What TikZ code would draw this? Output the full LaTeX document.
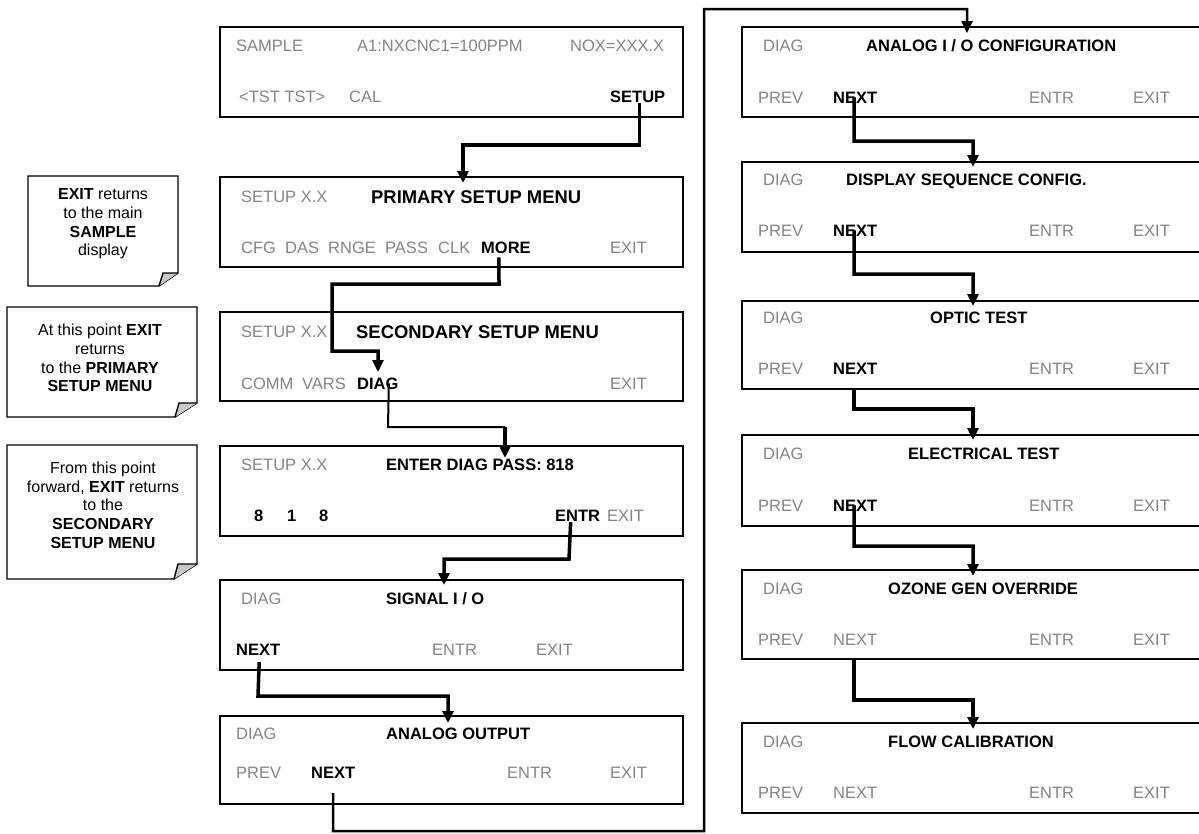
\documentclass[tikz,border=0pt]{standalone}
\usepackage{fontspec}
\setmainfont{Liberation Sans}
\usetikzlibrary{arrows.meta,calc}
\definecolor{txtgray}{RGB}{132,132,132}
\definecolor{foldgray}{RGB}{200,200,200}
\tikzset{
  screen/.style={draw=black, line width=1.4pt, minimum width=463pt, anchor=north west, inner sep=0pt, outer sep=0pt},
  rscreen/.style={screen, minimum width=480pt},
  g/.style={font=\fontsize{16.5}{18}\selectfont, text=txtgray, inner sep=0pt, anchor=base west},
  k/.style={font=\fontsize{16.5}{18}\selectfont\bfseries, text=black, inner sep=0pt, anchor=base west},
  kt/.style={font=\fontsize{18.4}{20}\selectfont\bfseries, text=black, inner sep=0pt, anchor=base west},
  flow/.style={line width=3.5pt, -{Triangle[length=12pt,width=11pt]}},
  thinflow/.style={line width=2pt},
  loopflow/.style={line width=2.5pt, -{Triangle[length=12pt,width=11pt]}},
  notebox/.style={draw=black, line width=1.4pt, fill=white},
  fold/.style={draw=black, line width=1.4pt, fill=foldgray},
  notetext/.style={font=\fontsize{16}{18.7}\selectfont, align=center, inner sep=0pt}
}
\begin{document}
\begin{tikzpicture}[x=1pt,y=-1pt]
\useasboundingbox (0,0) rectangle (1199,833);

% ---------- notes ----------
\draw[notebox] (28,176) -- (178,176) -- (178,273) -- (159,286) -- (28,286) -- cycle;
\draw[fold] (159,286) -- (163,273) -- (178,273);
\node[notetext] (n1) at (103,224) {\textbf{EXIT} returns\\to the main\\\textbf{SAMPLE}\\display};

\draw[notebox] (7,307) -- (197,307) -- (197,403) -- (175,417) -- (7,417) -- cycle;
\draw[fold] (175,417) -- (179,403) -- (197,403);
\node[notetext] (n2) at (100,358) {At this point \textbf{EXIT}\\returns\\to the \textbf{PRIMARY}\\\textbf{SETUP MENU}};

\draw[notebox] (7,445) -- (197,445) -- (197,564) -- (174,579) -- (7,579) -- cycle;
\draw[fold] (174,579) -- (178,564) -- (197,564);
\node[notetext] (n3) at (103,505) {From this point\\forward, \textbf{EXIT} returns\\to the\\\textbf{SECONDARY}\\\textbf{SETUP MENU}};

% ---------- left column screens ----------
\node[screen, minimum height=90pt] (b1) at (220,27) {};
\node[g] (b1a) at (236,51) {SAMPLE};
\node[g] (b1b) at (357,51) {A1:NXCNC1=100PPM};
\node[g] (b1c) at (570,51) {NOX=XXX.X};
\node[g] (b1d) at (239,102) {<TST TST>};
\node[g] (b1e) at (349,102) {CAL};
\node[k] (setup) at (610,102) {SETUP};

\node[screen, minimum height=90pt] (b2) at (220,177) {};
\node[g] (b2a) at (241,202) {SETUP X.X};
\node[kt] (b2t) at (371,203) {PRIMARY SETUP MENU};
\node[g] (b2b) at (241,253) {CFG};
\node[g] (b2c) at (285,253) {DAS};
\node[g] (b2d) at (328,253) {RNGE};
\node[g] (b2e) at (385,253) {PASS};
\node[g] (b2f) at (438,253) {CLK};
\node[k] (more) at (481,253) {MORE};
\node[g] (b2g) at (610,253) {EXIT};

\node[screen, minimum height=89pt] (b3) at (220,312) {};
\node[g] (b3a) at (241,337) {SETUP X.X};
\node[kt] (b3t) at (356,338) {SECONDARY SETUP MENU};
\node[g] (b3b) at (241,389) {COMM};
\node[g] (b3c) at (302,389) {VARS};
\node[k] (diag) at (357,389) {DIAG};
\node[g] (b3d) at (610,389) {EXIT};

\node[screen, minimum height=90pt] (b4) at (220,446) {};
\node[g] (b4a) at (241,470) {SETUP X.X};
\node[k] (b4t) at (386,470) {ENTER DIAG PASS: 818};
\node[k] (b4b) at (254,521) {8};
\node[k] (b4c) at (287,521) {1};
\node[k] (b4d) at (319,521) {8};
\node[k] (entr) at (555,521) {ENTR};
\node[g] (b4e) at (607,521) {EXIT};

\node[screen, minimum height=90pt] (b5) at (220,580) {};
\node[g] (b5a) at (241,604) {DIAG};
\node[k] (b5t) at (386,604) {SIGNAL I / O};
\node[k] (next5) at (236,655) {NEXT};
\node[g] (b5b) at (432,655) {ENTR};
\node[g] (b5c) at (536,655) {EXIT};

\node[screen, minimum height=88pt] (b6) at (220,716) {};
\node[g] (b6a) at (236,739) {DIAG};
\node[k] (b6t) at (386,739) {ANALOG OUTPUT};
\node[g] (b6b) at (236,778) {PREV};
\node[k] (next6) at (311,778) {NEXT};
\node[g] (b6c) at (507,778) {ENTR};
\node[g] (b6d) at (610,778) {EXIT};

% ---------- right column screens ----------
\node[rscreen, minimum height=90pt] (r1) at (742,27) {};
\node[g] (r1a) at (763,51) {DIAG};
\node[k] (r1t) at (866,51) {ANALOG I / O CONFIGURATION};
\node[g] (r1b) at (758,103) {PREV};
\node[k] (nr1) at (833,103) {NEXT};
\node[g] (r1c) at (1029,103) {ENTR};
\node[g] (r1d) at (1133,103) {EXIT};

\node[rscreen, minimum height=90pt] (r2) at (742,162) {};
\node[g] (r2a) at (763,185) {DIAG};
\node[k] (r2t) at (846,185) {DISPLAY SEQUENCE CONFIG.};
\node[g] (r2b) at (758,236) {PREV};
\node[k] (nr2) at (833,236) {NEXT};
\node[g] (r2c) at (1029,236) {ENTR};
\node[g] (r2d) at (1133,236) {EXIT};

\node[rscreen, minimum height=88pt] (r3) at (742,301) {};
\node[g] (r3a) at (763,323) {DIAG};
\node[k] (r3t) at (930,323) {OPTIC TEST};
\node[g] (r3b) at (758,374) {PREV};
\node[k] (nr3) at (833,374) {NEXT};
\node[g] (r3c) at (1029,374) {ENTR};
\node[g] (r3d) at (1133,374) {EXIT};

\node[rscreen, minimum height=91pt] (r4) at (742,435) {};
\node[g] (r4a) at (763,459) {DIAG};
\node[k] (r4t) at (908,459) {ELECTRICAL TEST};
\node[g] (r4b) at (758,511) {PREV};
\node[k] (nr4) at (833,511) {NEXT};
\node[g] (r4c) at (1029,511) {ENTR};
\node[g] (r4d) at (1133,511) {EXIT};

\node[rscreen, minimum height=89pt] (r5) at (742,570) {};
\node[g] (r5a) at (763,594) {DIAG};
\node[k] (r5t) at (888,594) {OZONE GEN OVERRIDE};
\node[g] (r5b) at (758,645) {PREV};
\node[g] (nr5) at (833,645) {NEXT};
\node[g] (r5c) at (1029,645) {ENTR};
\node[g] (r5d) at (1133,645) {EXIT};

\node[rscreen, minimum height=90pt] (r6) at (742,723) {};
\node[g] (r6a) at (763,747) {DIAG};
\node[k] (r6t) at (888,747) {FLOW CALIBRATION};
\node[g] (r6b) at (758,798) {PREV};
\node[g] (nr6) at (833,798) {NEXT};
\node[g] (r6c) at (1029,798) {ENTR};
\node[g] (r6d) at (1133,798) {EXIT};

% ---------- arrow targets ----------
\coordinate (e2) at (463,183);
\coordinate (e3) at (378,372);
\coordinate (e4) at (505,458);
\coordinate (e5) at (444,585);
\coordinate (e6) at (448,723);
\coordinate (er1) at (967,33);
\coordinate (er2) at (973,167);
\coordinate (er3) at (973,306);
\coordinate (er4) at (973,440);
\coordinate (er5) at (973,576);
\coordinate (er6) at (973,729);

% ---------- connectors ----------
\draw[flow] ([xshift=2pt,yshift=-1pt]setup.south) |- (463,145) -- (e2);
\draw[flow] ([xshift=-7pt,yshift=-4pt]more.south) -- (499,284) -| (332,351) -| (e3);
\draw[thinflow] ([xshift=11pt]diag.center) -- (388,427) -- (505,427);
\draw[flow] (505,427) -- (e4);
\draw[flow] ([xshift=-7pt,yshift=-1pt]entr.south) -- (569,559) -| (e5);
\draw[flow] ([xshift=1pt,yshift=-7pt]next5.south) -- (258,696) -| (e6);
\draw[loopflow] ([yshift=-15pt]next6.south) -- (333,831) -- (704,831) -- (704,9) -| (er1);
\draw[flow] ([xshift=-1pt]nr1.center) -- (854,141) -| (er2);
\draw[flow] ([xshift=-1pt]nr2.center) -- (854,274) -| (er3);
\draw[flow] (r3.south -| 854,0) -- (854,409) -| (er4);
\draw[flow] ([xshift=-1pt]nr4.center) -- (854,546) -| (er5);
\draw[flow] (r5.south -| 854,0) -- (854,700) -| (er6);
\end{tikzpicture}
\end{document}
